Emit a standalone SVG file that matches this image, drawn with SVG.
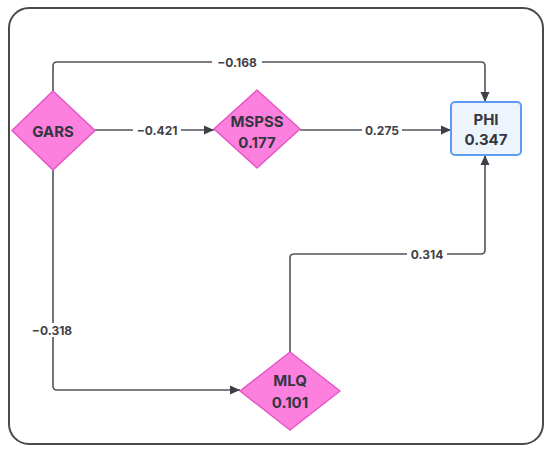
<svg xmlns="http://www.w3.org/2000/svg" width="550" height="451" viewBox="0 0 550 451">
<defs>
<marker id="ah" viewBox="0 0 10 10" refX="10" refY="5" markerWidth="10" markerHeight="10" markerUnits="userSpaceOnUse" orient="auto">
<path d="M0,0.5 L10,5 L0,9.5 Z" fill="#3d4048"/>
</marker>
<style>
.frame{fill:#ffffff;stroke:#4a4a4a;stroke-width:2}
.dia{fill:#fd80de;stroke:#e455c6;stroke-width:1.5;stroke-linejoin:round}
.box{fill:#eef4fc;stroke:#5c9cf2;stroke-width:2}
.edge{fill:none;stroke:#50535a;stroke-width:1.6;stroke-linejoin:round}
.nt{font-family:Inter,"Liberation Sans",sans-serif;font-weight:700;font-size:15px;fill:#333640;text-anchor:middle}
.lt{font-family:Inter,"Liberation Sans",sans-serif;font-weight:700;font-size:12px;fill:#3f4148;text-anchor:middle;dominant-baseline:central}
.lbg{fill:#ffffff}
</style>
</defs>
<rect class="frame" x="9" y="8" width="534" height="436" rx="20"/>
<g id="connectors">
<path class="edge" d="M53,91 V66 Q53,62 57,62 H481 Q485,62 485,66 V102" marker-end="url(#ah)"/>
<path class="edge" d="M95,130 H214" marker-end="url(#ah)"/>
<path class="edge" d="M300,130 H451" marker-end="url(#ah)"/>
<path class="edge" d="M53,170 V386 Q53,390 57,390 H240" marker-end="url(#ah)"/>
<path class="edge" d="M290,352 V258 Q290,254 294,254 H481 Q485,254 485,250 V155" marker-end="url(#ah)"/>
<rect class="lbg" x="212" y="55" width="50" height="14"/>
<text class="lt" x="237" y="62">−0.168</text>
<rect class="lbg" x="133" y="123" width="48" height="14"/>
<text class="lt" x="157" y="130">−0.421</text>
<rect class="lbg" x="362" y="123" width="40" height="14"/>
<text class="lt" x="382" y="130">0.275</text>
<rect class="lbg" x="28" y="323" width="49" height="14"/>
<text class="lt" x="52" y="330">−0.318</text>
<rect class="lbg" x="407" y="247" width="40" height="14"/>
<text class="lt" x="427" y="254">0.314</text>
</g>
<g id="GARS">
<path class="dia" d="M53,91 L95,130.5 L53,170 L12,130.5 Z"/>
<text class="nt" x="53" y="136.5">GARS</text>
</g>
<g id="MSPSS">
<path class="dia" d="M257,90 L300,129 L257,168 L214,129 Z"/>
<text class="nt" x="257" y="127">MSPSS</text>
<text class="nt" x="257" y="148">0.177</text>
</g>
<g id="PHI">
<rect class="box" x="451" y="102" width="70" height="53" rx="4"/>
<text class="nt" x="486" y="125">PHI</text>
<text class="nt" x="486" y="145">0.347</text>
</g>
<g id="MLQ">
<path class="dia" d="M290,352 L340,391 L290,430 L240,391 Z"/>
<text class="nt" x="290" y="386">MLQ</text>
<text class="nt" x="290" y="408">0.101</text>
</g>
</svg>
